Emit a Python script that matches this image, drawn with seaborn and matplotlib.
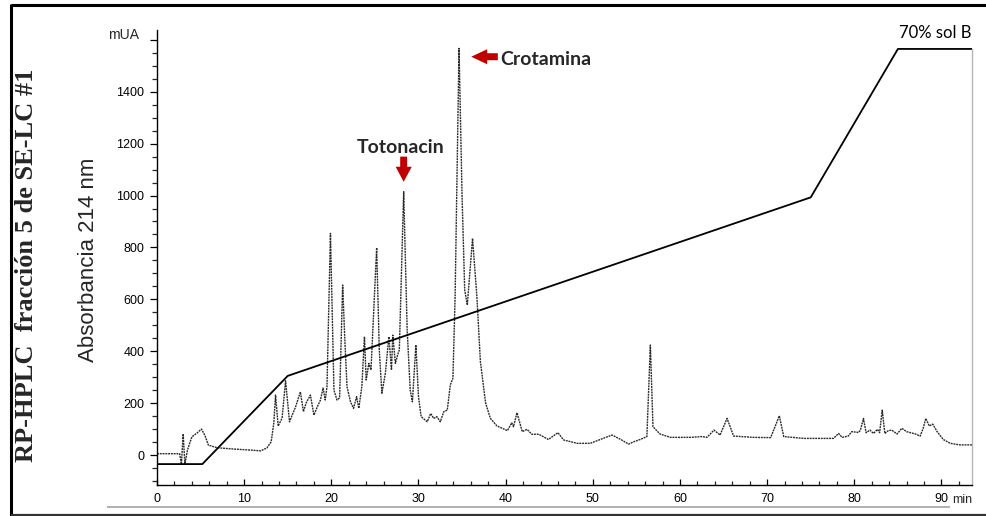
import matplotlib
matplotlib.use("Agg")
import matplotlib.pyplot as plt
from matplotlib.lines import Line2D
from matplotlib.patches import FancyArrow
from matplotlib.ticker import MultipleLocator, FixedLocator
import seaborn as sns
import pandas as pd

# Chromatogram trace: retention time (min) and absorbance at 214 nm (mUA)
time_min = [
    0.0, 2.6, 2.8, 3.0, 3.2, 3.5, 4.0, 4.6, 5.1, 5.5, 5.9, 6.9, 8.8, 10.7,
    11.9, 12.6, 13.1, 13.4, 13.6, 13.9, 14.35, 14.75, 15.2, 15.9, 16.45,
    16.8, 17.1, 17.6, 18.0, 18.4, 18.75, 19.05, 19.3, 19.5, 19.9, 20.3,
    20.65, 20.95, 21.3, 21.55, 21.8, 22.2, 22.55, 22.9, 23.15, 23.5, 23.8,
    24.0, 24.3, 24.55, 25.2, 25.5, 25.8, 26.2, 26.6, 26.9, 27.05, 27.35,
    27.6, 27.8, 28.3, 28.7, 29.05, 29.3, 29.7, 30.0, 30.3, 31.0, 31.4,
    31.75, 32.1, 32.5, 32.9, 33.3, 33.65, 33.95, 34.2, 34.65, 35.0, 35.3,
    35.6, 36.2, 36.7, 37.1, 37.7, 38.25, 39.0, 40.2, 40.7, 40.9, 41.3,
    41.9, 42.45, 43.0, 43.8, 44.9, 46.0, 46.65, 48.2, 49.7, 52.2, 53.2,
    54.1, 54.7, 55.45, 56.2, 56.6, 56.9, 57.7, 58.9, 61.2, 62.5, 63.1,
    63.9, 64.6, 65.4, 66.15, 68.4, 70.4, 71.4, 71.9, 74.2, 77.6, 78.2,
    78.6, 79.3, 79.7, 80.5, 80.7, 81.05, 81.35, 81.8, 82.2, 82.65, 82.9,
    83.2, 83.5, 83.9, 84.3, 84.9, 85.45, 86.0, 87.0, 87.55, 87.9, 88.2,
    88.6, 89.0, 89.5, 90.2, 91.0, 92.1, 93.6,
]
absorbance_mua = [
    5, 5, -35, 81, -35, 20, 70, 85, 100, 75, 38, 28, 23, 19,
    16, 27, 51, 123, 231, 112, 142, 286, 128, 186, 243,
    167, 200, 231, 154, 186, 212, 258, 212, 263, 854, 250,
    212, 220, 655, 443, 263, 205, 180, 225, 180, 263, 456,
    289, 353, 328, 799, 405, 238, 315, 456, 328, 462, 353,
    385, 405, 1015, 482, 250, 205, 424, 225, 148, 128, 160,
    141, 148, 128, 167, 173, 270, 296, 610, 1567, 995, 636,
    578, 835, 610, 360, 200, 141, 112, 94, 124, 109, 163,
    90, 99, 80, 80, 60, 86, 58, 45, 45, 77, 60,
    42, 51, 60, 71, 424, 109, 81, 68, 68, 71, 68,
    96, 77, 141, 73, 68, 67, 151, 71, 64, 64, 83,
    68, 73, 90, 87, 96, 141, 86, 96, 83, 99, 86,
    173, 83, 94, 96, 81, 103, 90, 81, 73, 103, 141,
    112, 119, 90, 60, 45, 39, 39,
]

# Solvent B gradient program, drawn on the absorbance scale
gradient_time = [0.0, 5.2, 15.0, 75.0, 85.0, 93.5]
gradient_level = [-35, -35, 305, 993, 1565, 1565]

y_ticks = [0, 200, 400, 600, 800, 1000, 1200, 1400, 1600]
y_tick_labels = ["0", "200", "400", "600", "800", "1000", "1200", "1400", ""]
x_ticks = [0, 10, 20, 30, 40, 50, 60, 70, 80, 90]

trace = pd.DataFrame({"t": time_min, "A": absorbance_mua})
gradient = pd.DataFrame({"t": gradient_time, "B": gradient_level})

sns.set_style("white")
plt.rcParams["font.family"] = ["Liberation Sans", "DejaVu Sans"]

W, H = 986, 516
fig = plt.figure(figsize=(W / 100, H / 100), dpi=100)
ax = fig.add_axes([157 / W, 1 - 485 / H, (972 - 157) / W, (485 - 30) / H])

sns.lineplot(data=trace, x="t", y="A", ax=ax, estimator=None, sort=False,
             color="#2a2a2a", lw=1.0, linestyle=(0, (1.4, 0.6)))
sns.lineplot(data=gradient, x="t", y="B", ax=ax, estimator=None, sort=False,
             color="black", lw=1.3)

ax.set_xlim(0, 93.5)
ax.set_ylim(-115.6, 1638)
ax.set_xlabel("")
ax.set_ylabel("")

ax.xaxis.set_major_locator(FixedLocator(x_ticks))
ax.xaxis.set_minor_locator(MultipleLocator(2))
ax.yaxis.set_major_locator(FixedLocator(y_ticks))
ax.set_yticklabels(y_tick_labels)
ax.yaxis.set_minor_locator(MultipleLocator(50))

ax.tick_params(axis="x", which="major", direction="in", length=4, width=0.9,
               labelsize=9, pad=6, colors="black")
ax.tick_params(axis="x", which="minor", direction="in", length=3, width=0.9)
ax.tick_params(axis="y", which="major", direction="out", length=5, width=0.9,
               labelsize=9, pad=4, colors="black")
ax.tick_params(axis="y", which="minor", direction="out", length=3.5, width=0.9)
ax.tick_params(bottom=True, left=True, which="both")

ax.spines["top"].set_visible(False)
ax.spines["left"].set_color("black")
ax.spines["left"].set_linewidth(1.0)
ax.spines["bottom"].set_color("black")
ax.spines["bottom"].set_linewidth(1.0)
ax.spines["right"].set_color("#b5b5b5")
ax.spines["right"].set_linewidth(1.0)
ax.spines["right"].set_bounds(-115.6, 1565)

# Unit label beside the top tick
fig.text(124 / W, 1 - 35 / H, "mUA", fontsize=10, ha="center", va="center")

# Gradient end label
ax.text(85.1, 1628, "70% sol B", family=["Lato", "DejaVu Sans"], fontsize=12,
        ha="left", va="center", color="black")

# Peak annotations
red = "#c00000"
ax.text(27.9, 1187, "Totonacin", family=["Lato", "DejaVu Sans"], fontsize=14,
        fontweight="bold", ha="center", va="center")
ax.add_patch(FancyArrow(28.3, 1150, 0, -97, width=0.8, head_width=1.85,
                        head_length=58, length_includes_head=True,
                        color=red, lw=0))
ax.text(39.4, 1526, "Crotamina", family=["Lato", "DejaVu Sans"], fontsize=14,
        fontweight="bold", ha="left", va="center")
ax.add_patch(FancyArrow(39.1, 1535, -3.05, 0, width=27, head_width=58,
                        head_length=1.83, length_includes_head=True,
                        color=red, lw=0))

fig.text(962 / W, 1 - 500 / H, "min", fontsize=9, ha="center", va="center")

# Axis titles
fig.text(88 / W, 1 - 260 / H, "Absorbancia 214 nm", rotation=90, fontsize=16,
         ha="center", va="center")
fig.text(27 / W, 1 - 265 / H, "RP-HPLC  fracción 5 de SE-LC #1", rotation=90,
         fontsize=19, fontweight="bold", family=["Liberation Serif", "DejaVu Serif"],
         ha="center", va="center")

# Panel frame and separator
def fig_line(x0, y0, x1, y1, color, lw):
    fig.add_artist(Line2D([x0 / W, x1 / W], [1 - y0 / H, 1 - y1 / H],
                          color=color, lw=lw, solid_capstyle="butt"))

fig_line(11, 5, 986, 5, "black", 2.2)
fig_line(11, 4, 11, 516, "black", 2.2)
fig_line(11, 514.5, 986, 514.5, "#333333", 1.6)
fig_line(107, 507, 950, 507, "#aaaaaa", 1.3)

fig.savefig("out.png", dpi=100)
